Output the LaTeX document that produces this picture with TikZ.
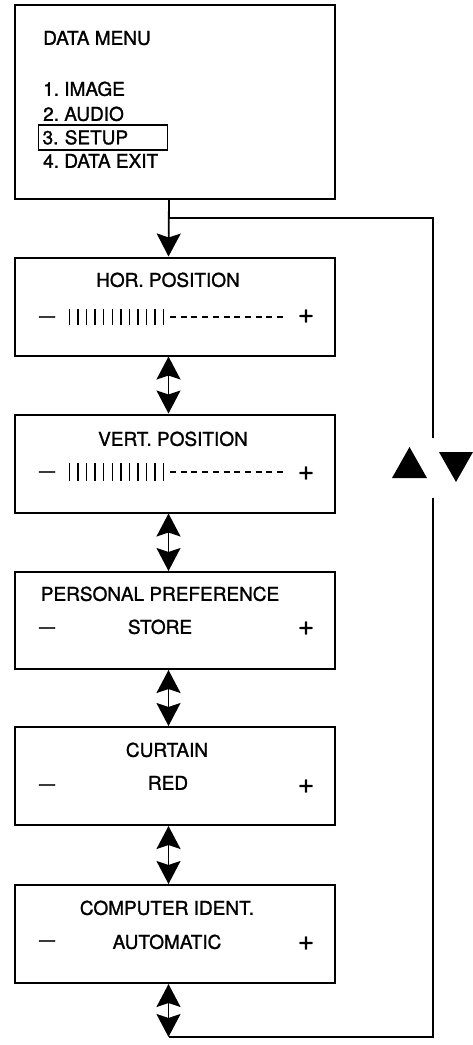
\documentclass[tikz,border=0pt]{standalone}
\usepackage{fontspec}
\setmainfont{TeX Gyre Heros}[FakeBold=1.3]
\usetikzlibrary{arrows.meta}
\frenchspacing
\begin{document}
\begin{tikzpicture}[x=1pt,y=-1pt,
  box/.style={draw, line width=2pt, minimum width=320pt, minimum height=98pt, inner sep=0pt},
  txt/.style={font=\fontsize{19}{22}\selectfont\frenchspacing, inner sep=0pt, text height=13.6pt, text depth=0pt},
  minus/.style={font=\fontsize{16}{20}\selectfont, inner sep=0pt, anchor=base},
  plus/.style={font=\fontsize{28}{30}\selectfont, inner sep=0pt, anchor=base},
  conn/.style={line width=1.8pt},
  tip/.tip={Stealth[length=23pt,width=24pt,inset=4pt]},
  onehead/.style={conn, -tip},
  twohead/.style={conn, tip-tip},
  bar/.style={line width=1.4pt},
  dsh/.style={line width=1.5pt, dash pattern=on 6pt off 4.7pt}
]
\useasboundingbox (0,0) rectangle (473,1045);

% menu box
\node[box, minimum height=194pt] (menu) at (175,102) {};
\node[txt, anchor=west] (mt) at (43,38) {DATA MENU};
\node[txt, anchor=west] (m1) at (43,89) {1. IMAGE};
\node[txt, anchor=west] (m2) at (43,114) {2. AUDIO};
\node[txt, anchor=west, draw, line width=1.2pt, inner xsep=4pt, text width=121pt, minimum height=25pt] (m3) at (38,137.5) {3. SETUP};
\node[txt, anchor=west] (m4) at (43,161) {4. DATA EXIT};

% setting boxes
\node[box] (hor) at (174.5,306.5) {};
\node[box] (vert) at (174.5,463.5) {};
\node[box, minimum height=97pt] (pers) at (174.5,620.5) {};
\node[box] (curt) at (174.5,776) {};
\node[box] (comp) at (174.5,934) {};

% titles and values
\node[txt] (horT) at (168,280) {HOR. POSITION};
\node[txt] (vertT) at (173,439) {VERT. POSITION};
\node[txt] (persT) at (160,594) {PERSONAL PREFERENCE};
\node[txt] (persV) at (160,627) {STORE};
\node[txt] (curtT) at (167,750) {CURTAIN};
\node[txt] (curtV) at (168,783) {RED};
\node[txt] (compT) at (167,908) {COMPUTER IDENT.};
\node[txt] (compV) at (167,942) {AUTOMATIC};

% minus and plus signs
\node[minus] (horM) at (47,321.4) {—};
\node[plus] (horP) at (306,323) {+};
\node[minus] (vertM) at (47,476.4) {—};
\node[plus] (vertP) at (306,480) {+};
\node[minus] (persM) at (47,632.4) {—};
\node[plus] (persP) at (306,635) {+};
\node[minus] (curtM) at (47,789.4) {—};
\node[plus] (curtP) at (306,793) {+};
\node[minus] (compM) at (47,945.4) {—};
\node[plus] (compP) at (306,950) {+};

% sliders
\foreach \i in {0,...,11} {
  \draw[bar] (69.5+\i*8.55,309) -- (69.5+\i*8.55,325);
  \draw[bar] (69.5+\i*8.55,463) -- (69.5+\i*8.55,481);
}
\draw[dsh] (170,317) -- (283,317);
\draw[dsh] (170,472) -- (283,472);

% connectors
\coordinate (br) at (168.5,218);
\coordinate (rtop) at (433,218);
\coordinate (gapT) at (433,438);
\coordinate (gapB) at (433,498);
\coordinate (rbot) at (433,1037);
\coordinate (bl) at (168.5,1037);

\draw[onehead] ([xshift=-6pt]menu.south) -- ([xshift=-6pt]hor.north);
\draw[conn] (br) -- (rtop) -- (gapT);
\draw[conn] (gapB) -- (rbot) -- (bl);
\draw[twohead] ([xshift=-6pt]hor.south) -- ([xshift=-6pt]vert.north);
\draw[twohead] ([xshift=-6pt]vert.south) -- ([xshift=-6pt]pers.north);
\draw[twohead] ([xshift=-6pt]pers.south) -- ([xshift=-6pt]curt.north);
\draw[twohead] ([xshift=-6pt]curt.south) -- ([xshift=-6pt]comp.north);
\draw[twohead] ([xshift=-6pt]comp.south) -- (bl);

% up / down triangles
\fill (392,478) -- (427,478) -- (409.5,447) -- cycle;
\fill (439,452) -- (473,452) -- (456,482) -- cycle;
\end{tikzpicture}
\end{document}
